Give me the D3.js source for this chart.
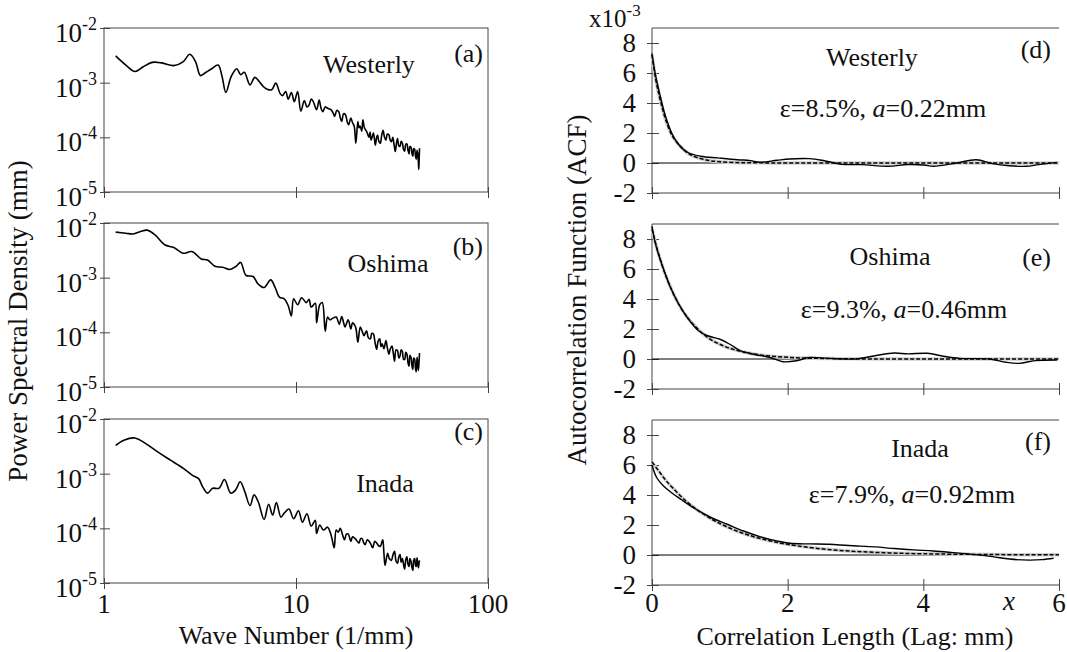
<!DOCTYPE html>
<html>
<head>
<meta charset="utf-8">
<script src="https://cdn.jsdelivr.net/npm/d3@7"></script>
<style>
  body { margin: 0; background: #fff; }
  text { font-family: "Liberation Serif", "DejaVu Serif", serif; }
</style>
</head>
<body>
<svg id="chart" width="1067" height="652"></svg>
<script>
// Power spectral density (mm) vs wave number (1/mm)
const westerlyK = [1.15, 1.30, 1.45, 1.60, 1.78, 2.00, 2.31, 2.58, 2.80, 3.00, 3.18, 3.40, 3.64, 3.93, 4.12, 4.31, 4.60, 4.91, 5.15, 5.38, 5.76, 6.10, 6.43, 6.75, 7.07, 7.47, 7.85, 8.27, 8.51, 8.84, 9.10, 9.46, 9.80, 10.2, 10.6, 11.05, 11.4, 11.7, 12.0, 12.3, 12.8, 13.2, 13.5, 13.8, 14.2, 14.6, 15.2, 15.6, 15.9, 16.3, 16.7, 17.0, 17.3, 17.7, 18.1, 18.5, 18.8, 19.3, 19.7, 20.1, 20.5, 21.0, 21.3, 21.6, 22.0, 22.3, 22.7, 23.1, 23.5, 24.0, 24.3, 24.6, 25.0, 25.3, 25.6, 25.9, 26.3, 26.6, 27.0, 27.5, 27.9, 28.4, 28.9, 29.4, 29.9, 30.5, 30.9, 31.4, 31.9, 32.4, 32.9, 33.4, 33.8, 34.3, 34.8, 35.3, 35.8, 36.3, 36.8, 37.3, 37.8, 38.3, 38.8, 39.2, 39.7, 40.2, 40.6, 41.0, 41.5, 41.9, 42.3, 42.7, 43.0, 43.4, 43.6, 43.8, 44.0];
const westerlyPsd = [3.1e-3, 2.1e-3, 1.6e-3, 1.95e-3, 2.35e-3, 2.3e-3, 2.05e-3, 2.4e-3, 3.3e-3, 2.4e-3, 1.35e-3, 1.55e-3, 1.8e-3, 2.1e-3, 1.3e-3, 6.6e-4, 1.3e-3, 1.8e-3, 1.4e-3, 1.55e-3, 9.1e-4, 1.25e-3, 1.05e-3, 8.5e-4, 7.6e-4, 7.4e-4, 9.8e-4, 6.3e-4, 5.8e-4, 6.9e-4, 5.0e-4, 6.6e-4, 4.5e-4, 6.9e-4, 3.0e-4, 4.7e-4, 3.6e-4, 3.9e-4, 5.0e-4, 4.5e-4, 3.2e-4, 4.8e-4, 3.4e-4, 2.95e-4, 3.6e-4, 3.4e-4, 3.2e-4, 2.8e-4, 2.4e-4, 3.1e-4, 2.95e-4, 2.3e-4, 1.95e-4, 2.7e-4, 2.6e-4, 1.9e-4, 1.7e-4, 2.25e-4, 1.85e-4, 1.6e-4, 7.8e-5, 1.95e-4, 1.5e-4, 1.6e-4, 1.3e-4, 2.1e-4, 1.5e-4, 1.35e-4, 1.2e-4, 1.0e-4, 1.25e-4, 8.9e-5, 1.05e-4, 1.2e-4, 9.5e-5, 7.2e-5, 1.0e-4, 1.1e-4, 8.5e-5, 7.8e-5, 1.05e-4, 1.35e-4, 1.0e-4, 8.9e-5, 1.15e-4, 1.1e-4, 9.0e-5, 8.3e-5, 1.0e-4, 7.5e-5, 5.5e-5, 8.0e-5, 9.5e-5, 7.0e-5, 6.8e-5, 8.5e-5, 7.9e-5, 6.0e-5, 5.6e-5, 7.5e-5, 7.6e-5, 5.8e-5, 5.0e-5, 6.8e-5, 6.6e-5, 5.0e-5, 4.5e-5, 6.2e-5, 6.0e-5, 4.5e-5, 4.0e-5, 5.8e-5, 5.2e-5, 3.5e-5, 2.6e-5, 4.0e-5, 6.3e-5];

const oshimaK = [1.15, 1.30, 1.42, 1.55, 1.68, 1.85, 2.07, 2.31, 2.58, 2.87, 3.21, 3.46, 3.78, 4.15, 4.52, 4.88, 5.15, 5.49, 5.98, 6.32, 6.82, 7.38, 7.76, 8.20, 8.68, 9.10, 9.46, 9.72, 10.2, 10.7, 11.3, 11.7, 12.0, 12.6, 12.8, 13.3, 13.7, 14.2, 14.6, 15.0, 15.5, 16.2, 16.8, 17.3, 17.7, 18.0, 18.7, 19.3, 19.7, 20.1, 20.5, 21.0, 21.6, 22.1, 22.6, 23.3, 23.8, 24.4, 24.8, 25.3, 25.8, 26.3, 26.8, 27.3, 27.7, 28.1, 28.7, 29.4, 29.9, 30.5, 31.0, 31.6, 32.1, 32.6, 33.2, 33.8, 34.3, 34.8, 35.3, 35.8, 36.3, 36.8, 37.3, 37.8, 38.3, 38.8, 39.2, 39.7, 40.2, 40.6, 41.0, 41.5, 41.9, 42.3, 42.7, 43.0, 43.4, 43.8, 44.0];
const oshimaPsd = [6.8e-3, 6.5e-3, 6.3e-3, 7.0e-3, 7.4e-3, 6.0e-3, 4.0e-3, 3.55e-3, 2.8e-3, 3.0e-3, 2.2e-3, 2.1e-3, 1.62e-3, 1.55e-3, 1.41e-3, 1.62e-3, 1.9e-3, 1.1e-3, 1.05e-3, 7.8e-4, 6.6e-4, 9.1e-4, 6.8e-4, 4.4e-4, 4.1e-4, 3.1e-4, 2.0e-4, 4.1e-4, 3.2e-4, 4.3e-4, 3.5e-4, 4.0e-4, 2.9e-4, 3.4e-4, 1.5e-4, 3.2e-4, 3.5e-4, 1.05e-4, 1.9e-4, 1.7e-4, 1.8e-4, 1.9e-4, 1.4e-4, 1.95e-4, 1.5e-4, 1.25e-4, 1.7e-4, 1.15e-4, 1.5e-4, 1.4e-4, 1.2e-4, 6.6e-5, 1.25e-4, 1.05e-4, 8.7e-5, 1.07e-4, 8.0e-5, 7.6e-5, 9.5e-5, 9.3e-5, 6.5e-5, 4.9e-5, 7.0e-5, 7.6e-5, 5.5e-5, 6.2e-5, 5.0e-5, 7.1e-5, 5.2e-5, 4.0e-5, 5.0e-5, 5.6e-5, 4.2e-5, 2.95e-5, 4.8e-5, 4.6e-5, 3.4e-5, 3.7e-5, 4.8e-5, 4.5e-5, 3.2e-5, 3.2e-5, 4.3e-5, 4.0e-5, 2.8e-5, 2.4e-5, 3.8e-5, 3.5e-5, 2.4e-5, 2.1e-5, 3.4e-5, 3.2e-5, 2.2e-5, 1.9e-5, 3.5e-5, 2.8e-5, 2.0e-5, 3.2e-5, 4.2e-5];

const inadaK = [1.15, 1.27, 1.45, 1.65, 1.92, 2.23, 2.58, 2.89, 3.11, 3.26, 3.46, 3.68, 3.97, 4.24, 4.57, 4.84, 5.12, 5.41, 5.76, 6.05, 6.37, 6.82, 7.20, 7.56, 7.90, 8.35, 8.68, 9.19, 9.72, 10.3, 10.8, 11.4, 12.0, 12.6, 12.8, 13.3, 13.9, 14.6, 15.3, 15.8, 16.2, 16.6, 17.0, 17.5, 17.9, 18.3, 18.7, 19.3, 19.7, 20.2, 20.7, 21.3, 21.7, 22.1, 22.5, 22.9, 23.5, 24.0, 24.5, 25.1, 25.7, 26.3, 26.9, 27.5, 28.3, 28.7, 29.1, 30.0, 30.6, 31.4, 32.0, 32.6, 33.2, 33.8, 34.3, 34.8, 35.3, 35.8, 36.3, 36.8, 37.3, 37.8, 38.3, 38.8, 39.2, 39.7, 40.2, 40.6, 41.0, 41.5, 41.9, 42.3, 42.7, 43.0, 43.4, 43.8, 44.0];
const inadaPsd = [3.3e-3, 4.1e-3, 4.5e-3, 3.55e-3, 2.45e-3, 1.75e-3, 1.26e-3, 9.3e-4, 8.1e-4, 5.8e-4, 4.4e-4, 5.4e-4, 5.4e-4, 7.8e-4, 4.4e-4, 5.0e-4, 7.1e-4, 4.7e-4, 2.6e-4, 4.1e-4, 3.0e-4, 1.45e-4, 2.75e-4, 1.75e-4, 2.95e-4, 1.6e-4, 1.9e-4, 2.25e-4, 1.5e-4, 2.1e-4, 1.3e-4, 1.85e-4, 1.1e-4, 1.4e-4, 8.1e-5, 1.15e-4, 9.3e-5, 1.05e-4, 7.1e-5, 4.4e-5, 9.3e-5, 8.5e-5, 1.0e-4, 7.5e-5, 6.2e-5, 7.8e-5, 7.9e-5, 5.8e-5, 7.0e-5, 6.6e-5, 6.0e-5, 5.4e-5, 6.5e-5, 6.5e-5, 5.5e-5, 5.0e-5, 6.2e-5, 5.8e-5, 5.2e-5, 4.4e-5, 5.8e-5, 5.4e-5, 4.8e-5, 4.7e-5, 6.2e-5, 3.5e-5, 2.1e-5, 3.5e-5, 2.8e-5, 2.6e-5, 3.3e-5, 3.8e-5, 2.5e-5, 2.3e-5, 3.0e-5, 3.3e-5, 2.4e-5, 2.8e-5, 2.2e-5, 1.8e-5, 2.7e-5, 3.0e-5, 2.2e-5, 2.0e-5, 2.8e-5, 2.5e-5, 1.9e-5, 1.7e-5, 2.6e-5, 2.8e-5, 2.1e-5, 2.0e-5, 2.9e-5, 2.4e-5, 1.9e-5, 2.4e-5, 2.6e-5];

// Autocorrelation function (x10^-3) vs lag (mm): measured and exponential fit
const westerlyLag = [0, 0.05, 0.12, 0.19, 0.29, 0.39, 0.53, 0.72, 0.97, 1.26, 1.45, 1.59, 1.84, 2.03, 2.32, 2.51, 2.80, 3.09, 3.48, 3.77, 4.01, 4.15, 4.49, 4.78, 5.02, 5.27, 5.51, 5.70, 5.97];
const westerlyAcf = [7.3, 5.9, 4.5, 3.25, 2.0, 1.25, 0.7, 0.45, 0.34, 0.22, 0.16, 0.05, 0.18, 0.27, 0.29, 0.18, -0.09, -0.11, -0.22, -0.1, -0.13, -0.22, 0, 0.22, -0.04, -0.18, -0.22, -0.11, 0.04];
const westerlyFitLag = [0, 0.05, 0.1, 0.15, 0.2, 0.3, 0.4, 0.5, 0.6, 0.8, 1.0, 1.3, 1.6, 2, 3, 4, 5, 6];
const westerlyFit = [7.2, 5.7, 4.6, 3.7, 2.9, 1.8, 1.2, 0.75, 0.48, 0.2, 0.08, 0.02, 0.01, 0, 0, 0, 0, 0];

const oshimaLag = [0, 0.05, 0.15, 0.27, 0.39, 0.53, 0.68, 0.82, 1.01, 1.16, 1.30, 1.50, 1.74, 1.93, 2.13, 2.32, 2.61, 3.0, 3.29, 3.57, 3.77, 4.06, 4.30, 4.54, 4.98, 5.22, 5.41, 5.65, 5.97];
const oshimaAcf = [8.85, 7.7, 6.25, 4.8, 3.7, 2.7, 1.9, 1.55, 1.3, 0.95, 0.56, 0.32, 0.1, -0.18, -0.12, 0.1, 0.04, 0, 0.22, 0.4, 0.34, 0.38, 0.18, 0.04, 0, -0.22, -0.29, -0.11, -0.07];
const oshimaFitLag = [0, 0.1, 0.2, 0.3, 0.4, 0.5, 0.6, 0.8, 1.0, 1.2, 1.5, 2.0, 2.5, 3, 4, 5, 6];
const oshimaFit = [8.65, 6.95, 5.6, 4.5, 3.6, 2.9, 2.35, 1.5, 0.98, 0.64, 0.33, 0.11, 0.04, 0.01, 0, 0, 0];

const inadaLag = [0, 0.07, 0.17, 0.29, 0.43, 0.63, 0.87, 1.11, 1.35, 1.59, 1.84, 2.03, 2.32, 2.61, 2.90, 3.29, 3.57, 3.86, 4.15, 4.44, 4.73, 5.02, 5.27, 5.56, 5.75, 5.92];
const inadaAcf = [6.0, 5.15, 4.6, 4.15, 3.7, 3.1, 2.5, 2.05, 1.6, 1.23, 0.94, 0.78, 0.74, 0.72, 0.63, 0.54, 0.43, 0.34, 0.27, 0.16, 0.04, -0.11, -0.27, -0.34, -0.31, -0.22];
const inadaFitLag = [0, 0.1, 0.2, 0.3, 0.5, 0.75, 1.0, 1.25, 1.5, 1.75, 2.0, 2.5, 3.0, 3.5, 4.0, 5.0, 6.0];
const inadaFit = [6.2, 5.6, 5.0, 4.5, 3.6, 2.75, 2.1, 1.6, 1.22, 0.93, 0.71, 0.41, 0.24, 0.14, 0.08, 0.03, 0.01];

// Tick values and labels
const psdDecades = [-2, -3, -4, -5];
const waveTicks = [1, 10, 100];
const acfTicks = [-2, 0, 2, 4, 6, 8];
const lagTicks = [0, 2, 4, 6];

(function() {
  'use strict';

  let svg = d3.select('#chart'),
      serif = '"Liberation Serif", "DejaVu Serif", serif',
      frameColor = '#444',

      psdX = d3.scaleLog().domain([1, 100]).range([104, 488]),
      acfX = d3.scaleLinear().domain([0, 6]).range([652, 1059]),

      psdPanels = [
        { k: westerlyK, v: westerlyPsd, top: 28, tag: '(a)', tagY: 62, name: 'Westerly', nameX: 369, nameY: 73 },
        { k: oshimaK, v: oshimaPsd, top: 223, tag: '(b)', tagY: 255, name: 'Oshima', nameX: 388, nameY: 272 },
        { k: inadaK, v: inadaPsd, top: 419, tag: '(c)', tagY: 440, name: 'Inada', nameX: 385, nameY: 492 }
      ],

      acfPanels = [
        { lag: westerlyLag, acf: westerlyAcf, fitLag: westerlyFitLag, fit: westerlyFit, top: 28,
          tag: '(d)', tagY: 58, name: 'Westerly', nameX: 872, nameY: 66,
          eps: '8.5%', a: '0.22mm', epsX: 883, epsY: 117 },
        { lag: oshimaLag, acf: oshimaAcf, fitLag: oshimaFitLag, fit: oshimaFit, top: 224,
          tag: '(e)', tagY: 266, name: 'Oshima', nameX: 890, nameY: 265,
          eps: '9.3%', a: '0.46mm', epsX: 904, epsY: 318 },
        { lag: inadaLag, acf: inadaAcf, fitLag: inadaFitLag, fit: inadaFit, top: 420,
          tag: '(f)', tagY: 450, name: 'Inada', nameX: 920, nameY: 457,
          eps: '7.9%', a: '0.92mm', epsX: 912, epsY: 503 }
      ],

      /**
       * Plain text helper
       */
      label = (x, y, text, size, anchor) => svg.append('text')
        .attr('x', x)
        .attr('y', y)
        .attr('font-family', serif)
        .attr('font-size', size)
        .attr('text-anchor', anchor || 'middle')
        .attr('fill', '#111')
        .text(text),

      /**
       * Left column: log-log spectra
       */
      drawPsd = (p, isLast) => {
        let h = 164,
            y = d3.scaleLog().domain([1e-5, 1e-2]).range([p.top + h, p.top]),
            g = svg.append('g');

        g.append('rect')
          .attr('x', 104).attr('y', p.top)
          .attr('width', 384).attr('height', h)
          .attr('fill', 'none').attr('stroke', frameColor);

        // ticks crossing the axes
        g.append('g')
          .attr('transform', 'translate(104,0)')
          .call(d3.axisLeft(y).tickValues(psdDecades.map(e => Math.pow(10, e))).tickSize(4).tickFormat(''))
          .call(a => a.select('.domain').remove())
          .call(a => a.selectAll('.tick line').attr('x1', 6).attr('stroke', frameColor));

        g.append('g')
          .attr('transform', `translate(0,${p.top + h})`)
          .call(d3.axisBottom(psdX).tickValues(waveTicks).tickSize(6).tickFormat(''))
          .call(a => a.select('.domain').remove())
          .call(a => a.selectAll('.tick line').attr('y1', -5).attr('stroke', frameColor));

        psdDecades.forEach(e => {
          let t = label(97, y(Math.pow(10, e)) + 14, null, 27, 'end').text('10');
          t.append('tspan').attr('dy', -12).attr('font-size', 18).text('-' + Math.abs(e));
        });

        g.append('path')
          .datum(d3.zip(p.k, p.v))
          .attr('fill', 'none')
          .attr('stroke', '#000')
          .attr('stroke-width', 1.6)
          .attr('stroke-linejoin', 'round')
          .attr('d', d3.line()
            .x(d => psdX(d[0]))
            .y(d => y(d[1]))
            .curve(d3.curveCatmullRom.alpha(0.5)));

        label(483, p.tagY, p.tag, 26, 'end');
        label(p.nameX, p.nameY, p.name, 26);

        if (isLast) {
          waveTicks.forEach(t => label(psdX(t), 613, t, 27));
        }
      },

      /**
       * Right column: autocorrelation with exponential fit
       */
      drawAcf = (p, isLast) => {
        let h = 165,
            y = d3.scaleLinear().domain([-2, 9]).range([p.top + h, p.top]),
            g = svg.append('g'),
            line = d3.line()
              .x(d => acfX(d[0]))
              .y(d => y(d[1]))
              .curve(d3.curveCatmullRom.alpha(0.5));

        g.append('path')
          .attr('d', `M1059,${p.top}H652V${p.top + h}H1059`)
          .attr('fill', 'none')
          .attr('stroke', frameColor);

        g.append('g')
          .attr('transform', 'translate(652,0)')
          .call(d3.axisLeft(y).tickValues(acfTicks).tickSize(5).tickFormat(''))
          .call(a => a.select('.domain').remove())
          .call(a => a.selectAll('.tick line').attr('x1', 7).attr('stroke', frameColor));

        g.append('g')
          .attr('transform', `translate(0,${p.top + h})`)
          .call(d3.axisBottom(acfX).tickValues(lagTicks).tickSize(6).tickFormat(''))
          .call(a => a.select('.domain').remove())
          .call(a => a.selectAll('.tick line').attr('y1', -6).attr('stroke', frameColor));

        acfTicks.forEach(t => label(636, y(t), t, 27, 'end').attr('dy', '0.35em'));

        // zero line
        g.append('line')
          .attr('x1', 652).attr('x2', 1059)
          .attr('y1', y(0)).attr('y2', y(0))
          .attr('stroke', '#000');

        let fitData = d3.zip(p.fitLag, p.fit);
        g.append('path')
          .datum(fitData)
          .attr('fill', 'none')
          .attr('stroke', '#cfcfcf')
          .attr('stroke-width', 3.5)
          .attr('d', line);
        g.append('path')
          .datum(fitData)
          .attr('fill', 'none')
          .attr('stroke', '#000')
          .attr('stroke-width', 1.5)
          .attr('stroke-dasharray', '4,2')
          .attr('d', line);

        g.append('path')
          .datum(d3.zip(p.lag, p.acf))
          .attr('fill', 'none')
          .attr('stroke', '#000')
          .attr('stroke-width', 1.4)
          .attr('d', line);

        label(1051, p.tagY, p.tag, 26, 'end');
        label(p.nameX, p.nameY, p.name, 26);

        let e = label(p.epsX, p.epsY, null, 26).text('\u03b5=' + p.eps + ', ');
        e.append('tspan').attr('font-style', 'italic').text('a');
        e.append('tspan').text('=' + p.a);

        if (isLast) {
          lagTicks.forEach(t => label(acfX(t), 612, t, 27));
          label(1009, 610, 'x', 27).attr('font-style', 'italic');
        }
      },

      /**
       * Axis titles and the shared multiplier
       */
      drawTitles = () => {
        label(296, 644, 'Wave Number (1/mm)', 26);
        label(855, 645, 'Correlation Length (Lag: mm)', 26);

        label(0, 0, 'Power Spectral Density (mm)', 27)
          .attr('transform', 'translate(27,321) rotate(-90)');
        label(0, 0, 'Autocorrelation Function (ACF)', 27)
          .attr('transform', 'translate(586,290) rotate(-90)');

        let m = label(589, 27, null, 25, 'start').text('x10');
        m.append('tspan').attr('dy', -11).attr('font-size', 17).text('-3');
      };

  psdPanels.forEach((p, i) => drawPsd(p, i === psdPanels.length - 1));
  acfPanels.forEach((p, i) => drawAcf(p, i === acfPanels.length - 1));
  drawTitles();
})();
</script>
</body>
</html>
